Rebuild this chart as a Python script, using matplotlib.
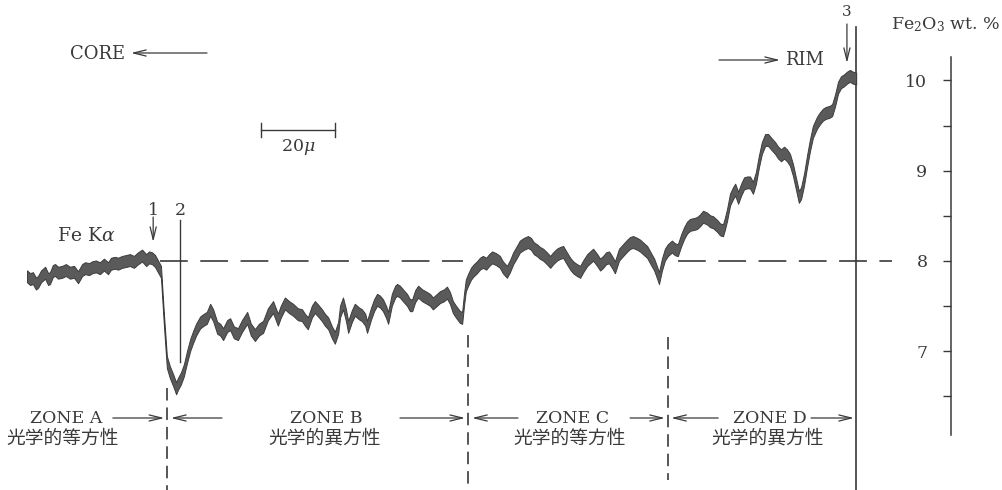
import matplotlib
matplotlib.use("Agg")
import matplotlib.pyplot as plt
import matplotlib.transforms as mtransforms
import numpy as np

plt.rcParams["font.family"] = "DejaVu Serif"
plt.rcParams["mathtext.fontset"] = "dejavuserif"
plt.rcParams["lines.scale_dashes"] = False

# ---------------------------------------------------------------------------
# Fe K-alpha line scan across the grain (distance in micrometres, Fe2O3 wt.%)
# ---------------------------------------------------------------------------
zone_a_um = [0.0, 0.8, 1.6, 2.4, 3.0, 3.8, 4.9, 5.7, 6.2, 7.0, 7.6, 8.4, 9.5,
             10.5, 11.6, 12.7, 13.8, 14.9, 15.7, 16.8, 17.6, 18.6, 19.7, 20.8,
             21.9, 22.7, 23.8, 24.6, 25.7, 26.8, 27.8, 28.9, 30.0, 31.1, 32.2,
             33.0, 33.8, 34.6, 35.4, 36.2]
zone_a_wt = [7.83, 7.80, 7.81, 7.75, 7.77, 7.83, 7.87, 7.80, 7.81, 7.89, 7.90,
             7.87, 7.88, 7.90, 7.87, 7.88, 7.82, 7.90, 7.92, 7.91, 7.93, 7.94,
             7.92, 7.96, 7.92, 7.97, 7.98, 7.97, 7.99, 8.00, 8.01, 7.99, 8.03,
             8.06, 8.01, 8.04, 8.03, 8.00, 7.94, 7.88]

zone_b_um = [37.0, 37.8, 38.6, 39.5, 40.3, 40.8, 41.6, 42.4, 43.2, 44.1, 44.9,
             45.7, 46.8, 47.8, 48.6, 49.5, 50.3, 51.4, 52.2, 53.0, 54.1, 54.9,
             55.9, 57.0, 58.1, 59.5, 60.5, 61.6, 62.7, 63.8, 65.1, 66.5, 67.8,
             68.6, 69.7, 70.8, 71.9, 73.2, 74.3, 75.1, 75.9, 77.0, 77.8, 78.9,
             79.7, 80.5, 81.4, 82.4, 83.2, 84.1, 84.6, 85.4, 86.2, 86.8, 87.8,
             88.6, 89.7, 90.5, 91.4, 91.9, 93.0, 93.8, 94.6, 95.4, 96.2, 97.0,
             97.6, 98.6, 99.5, 100.0, 100.8, 101.6, 102.7, 103.5, 104.1, 104.9,
             105.7, 106.8, 108.1, 108.9, 109.7, 110.8, 111.6, 112.7, 113.5,
             114.3, 115.1, 115.9, 117.0, 117.6]
zone_b_wt = [7.35, 6.88, 6.77, 6.68, 6.59, 6.64, 6.70, 6.79, 6.93, 7.07, 7.16,
             7.24, 7.32, 7.35, 7.37, 7.46, 7.40, 7.26, 7.24, 7.19, 7.28, 7.30,
             7.21, 7.19, 7.28, 7.37, 7.24, 7.18, 7.24, 7.27, 7.41, 7.49, 7.35,
             7.44, 7.53, 7.49, 7.46, 7.41, 7.40, 7.35, 7.31, 7.44, 7.49, 7.44,
             7.40, 7.35, 7.31, 7.21, 7.15, 7.26, 7.44, 7.53, 7.40, 7.27, 7.39,
             7.46, 7.42, 7.40, 7.35, 7.27, 7.42, 7.51, 7.57, 7.55, 7.51, 7.44,
             7.37, 7.57, 7.66, 7.68, 7.66, 7.62, 7.57, 7.51, 7.51, 7.61, 7.66,
             7.62, 7.59, 7.57, 7.53, 7.57, 7.60, 7.62, 7.65, 7.59, 7.49, 7.44,
             7.38, 7.37]

zone_c_um = [118.1, 118.6, 119.2, 120.0, 120.8, 121.6, 122.4, 123.2, 124.1,
             124.9, 125.7, 126.8, 127.8, 128.6, 129.7, 130.5, 131.4, 132.4,
             133.2, 134.3, 135.4, 136.2, 137.0, 137.8, 138.6, 139.5, 140.5,
             141.4, 142.2, 143.2, 144.1, 144.9, 145.9, 146.8, 147.6, 148.6,
             149.5, 150.3, 151.4, 152.2, 153.0, 154.1, 154.9, 155.7, 156.5,
             157.3, 158.1, 158.9, 160.0, 161.1, 162.2, 163.0, 163.8, 164.9,
             165.7, 166.5, 167.6, 168.4, 169.5, 170.3, 170.8]
zone_c_wt = [7.57, 7.73, 7.79, 7.86, 7.90, 7.93, 7.97, 7.99, 7.97, 8.01, 8.04,
             8.02, 7.99, 7.93, 7.88, 7.94, 8.03, 8.10, 8.16, 8.19, 8.21, 8.19,
             8.14, 8.12, 8.09, 8.07, 8.03, 7.99, 8.03, 8.07, 8.09, 8.10, 8.03,
             7.97, 7.93, 7.90, 7.88, 7.94, 8.01, 8.04, 8.07, 8.01, 7.96, 7.99,
             8.03, 8.04, 7.99, 7.93, 8.07, 8.12, 8.17, 8.20, 8.21, 8.19, 8.17,
             8.14, 8.10, 8.04, 7.96, 7.87, 7.81]

zone_d_um = [171.6, 172.4, 173.2, 174.3, 175.1, 175.9, 176.8, 177.6, 178.4,
             179.2, 180.3, 181.1, 181.9, 182.7, 183.8, 184.6, 185.4, 186.5,
             187.3, 188.1, 188.6, 189.2, 190.0, 190.8, 191.4, 192.2, 193.0,
             193.8, 194.6, 195.4, 196.2, 197.0, 197.8, 198.6, 199.5, 200.3,
             201.1, 202.2, 203.0, 203.8, 204.6, 205.4, 206.2, 207.0, 207.8,
             208.6, 209.2, 210.0, 210.8, 211.6, 212.4, 213.5, 214.3, 215.1,
             215.9, 216.8, 217.6, 218.4, 219.2, 220.0, 220.8, 221.6, 222.4,
             223.2, 224.1]
zone_d_wt = [7.96, 8.07, 8.12, 8.16, 8.13, 8.12, 8.23, 8.31, 8.37, 8.40, 8.41,
             8.42, 8.45, 8.49, 8.47, 8.44, 8.43, 8.39, 8.35, 8.34, 8.41, 8.51,
             8.68, 8.75, 8.79, 8.70, 8.79, 8.86, 8.87, 8.87, 8.81, 8.92, 9.10,
             9.25, 9.34, 9.34, 9.30, 9.25, 9.20, 9.17, 9.20, 9.17, 9.12, 9.01,
             8.86, 8.71, 8.75, 8.90, 9.10, 9.28, 9.43, 9.53, 9.58, 9.62, 9.64,
             9.65, 9.67, 9.78, 9.92, 9.98, 10.00, 10.03, 10.05, 10.03, 10.02]

zone_names = ["ZONE A", "ZONE B", "ZONE C", "ZONE D"]
zone_optics = ["光学的等方性", "光学的異方性", "光学的等方性", "光学的異方性"]
zone_bounds_um = [37.8, 119.2, 173.2, 224.1]   # A|B, B|C, C|D, rim
reference_level = 8.0                           # Fe2O3 wt.% guide line
point_um = {"1": 34.1, "2": 41.4, "3": 221.6}
scale_major = [7, 8, 9, 10]
scale_minor = [6.5, 7.5, 8.5, 9.5]
scale_bar_um = 20

dist = np.array(zone_a_um + zone_b_um + zone_c_um + zone_d_um)
fe2o3 = np.array(zone_a_wt + zone_b_wt + zone_c_wt + zone_d_wt)

# ---------------------------------------------------------------------------
W, H, DPI = 1003, 490, 100
INK = "#3a3a3a"
TRACE = "#5a5a5a"
JP = ["Noto Sans CJK JP", "DejaVu Sans"]

fig = plt.figure(figsize=(W / DPI, H / DPI), dpi=DPI)
fig.patch.set_facecolor("white")

XLIM = (-7.30, 263.78)
YLIM = (5.464, 10.890)

ax = fig.add_axes([0, 0, 1, 1])
ax.set_xlim(*XLIM)
ax.set_ylim(*YLIM)
ax.axis("off")

# pixel frame used for free-standing labels
lay = fig.add_axes([0, 0, 1, 1])
lay.set_xlim(0, W)
lay.set_ylim(H, 0)
lay.axis("off")
lay.patch.set_alpha(0)

mix = mtransforms.blended_transform_factory(ax.transData, lay.transData)


def arrow(tail, head, trans, lw=0.9):
    lay.annotate("", xy=head, xytext=tail, xycoords=trans, textcoords=trans,
                 arrowprops=dict(arrowstyle="->,head_length=0.9,head_width=0.22",
                                 color=INK, lw=lw, shrinkA=0, shrinkB=0))


# recorder trace: a band of constant height around the scan values
BAND = 0.066
ax.fill_between(dist, fe2o3 - BAND, fe2o3 + BAND, color=TRACE,
                edgecolor="#3c3c3c", lw=0.7, zorder=3)

# 8 wt.% guide line (interrupted where the trace runs above it)
for x0, x1 in [(35.9, 117.8), (175.9, 233.8)]:
    ax.plot([x0, x1], [reference_level] * 2, color=INK, lw=1.2,
            dashes=(20, 9), zorder=2)

# zone boundaries
zone_tops = [6.59, 7.18, 7.16]
zone_bottoms = [YLIM[0], YLIM[0], 5.575]
for b, top, bot in zip(zone_bounds_um[:3], zone_tops, zone_bottoms):
    ax.plot([b, b], [top, bot], color=INK, lw=1.2, dashes=(9, 5))
ax.plot([zone_bounds_um[3]] * 2, [10.59, YLIM[0]], color=INK, lw=1.2)

# zone arrows and labels
arrow_rows = 418
arrow_spans = [
    (None, (23.2, 37.1)),
    ((52.7, 38.9), (100.8, 118.4)),
    ((132.7, 120.3), (163.0, 172.4)),
    ((186.8, 174.1), (211.9, 223.5)),
]
label_x = [66, 326, 573, 770]
label_jx = [63, 325, 570, 768]
for i in range(4):
    left, right = arrow_spans[i]
    if left is not None:
        arrow((left[0], arrow_rows), (left[1], arrow_rows), mix)
    arrow((right[0], arrow_rows), (right[1], arrow_rows), mix)
    lay.text(label_x[i], arrow_rows, zone_names[i], ha="center", va="center",
             fontsize=12.5, color=INK)
    lay.text(label_jx[i], 438, zone_optics[i], ha="center", va="center",
             fontsize=13.5, color=INK, family=JP)

# analysis points 1, 2, 3
p1, p2, p3 = point_um["1"], point_um["2"], point_um["3"]
arrow((p1, 217), (p1, 242), mix)
lay.text(27 + 3.7 * p1, 210, "1", ha="center", va="center", fontsize=12.5, color=INK)
ax.plot([p2, p2], [8.45, 6.88], color=INK, lw=1.0)
lay.text(27 + 3.7 * p2, 210, "2", ha="center", va="center", fontsize=12.5, color=INK)
arrow((p3, 24), (p3, 63), mix)
lay.text(27 + 3.7 * p3, 12, "3", ha="center", va="center", fontsize=11, color=INK)

# CORE / RIM direction labels
lay.text(70, 54, "CORE", ha="left", va="center", fontsize=13, color=INK)
arrow((207, 53), (131, 53), lay.transData)
arrow((719, 60), (780, 60), lay.transData)
lay.text(785, 60, "RIM", ha="left", va="center", fontsize=13, color=INK)

# element line label
lay.text(57, 236, r"Fe K$\alpha$", ha="left", va="center", fontsize=13.5, color=INK)

# length scale bar
sb0 = 63.2
ax.plot([sb0, sb0 + scale_bar_um], [9.451, 9.451], color=INK, lw=1.0)
for xb in (sb0, sb0 + scale_bar_um):
    ax.plot([xb, xb], [9.37, 9.53], color=INK, lw=1.0)
lay.text(298, 147, r"20$\mu$", ha="center", va="center", fontsize=12.5, color=INK)

# Fe2O3 scale on the right
ax2 = fig.add_axes([951 / W, 0, 0.0005, 1])
ax2.set_ylim(*YLIM)
ax2.patch.set_visible(False)
for s in ("top", "right", "bottom"):
    ax2.spines[s].set_visible(False)
ax2.spines["left"].set_bounds(6.07, 10.26)
ax2.spines["left"].set_color(INK)
ax2.spines["left"].set_linewidth(1.1)
ax2.set_xticks([])
ax2.set_yticks(scale_major)
ax2.set_yticklabels([str(v) for v in scale_major])
ax2.set_yticks(scale_minor, minor=True)
ax2.tick_params(axis="y", which="both", direction="out", length=6, width=1.0,
                colors=INK, pad=11, labelsize=12.5)
lay.text(946, 25, r"Fe$_2$O$_3$ wt. %", ha="center", va="center",
         fontsize=12.5, color=INK)

fig.savefig("out.png", dpi=DPI, facecolor="white")
